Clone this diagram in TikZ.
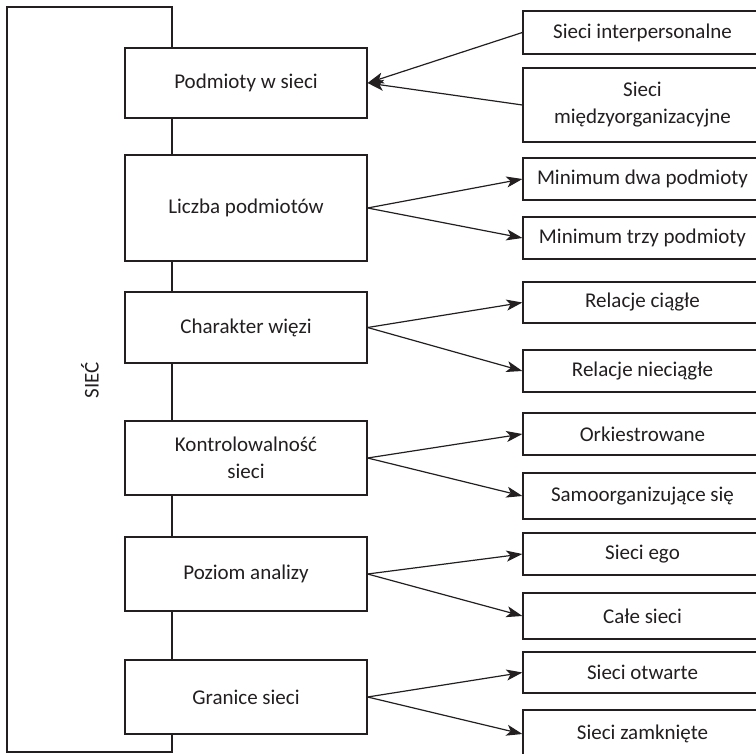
\documentclass[tikz,border=0pt]{standalone}
\usepackage{fontspec}
\setmainfont{Carlito}
\usetikzlibrary{arrows.meta}
\definecolor{ink}{HTML}{231F20}
\begin{document}
\begin{tikzpicture}[x=1pt,y=-1pt,
  every node/.style={font=\fontsize{21}{27}\selectfont, text=ink},
  mid/.style={draw=ink, line width=1.2pt, fill=white, minimum width=242pt, inner sep=0pt, align=center},
  opt/.style={draw=ink, line width=1.2pt, fill=white, minimum width=239pt, inner sep=0pt, align=center},
  conn/.style={draw=ink, line width=1.2pt, -{Stealth[length=16pt,width=11pt,inset=4pt]}}]
\useasboundingbox (0,0) rectangle (756,754);
\begin{scope}
\clip (0,0) rectangle (756,754);
% frame
\coordinate (ftr) at (172,7);
\coordinate (ftl) at (7,7);
\coordinate (fbl) at (7,752);
\coordinate (fbr) at (172,752);
\draw[ink, line width=1.2pt] (ftr) -- (ftl) -- (fbl) -- (fbr) -- cycle;
\node[rotate=90] (siec) at (90,380) {SIEĆ};
% middle boxes
\node[mid, minimum height=70pt] (m1) at (246,83) {Podmioty w sieci};
\node[mid, minimum height=106pt] (m2) at (246,208) {Liczba podmiotów};
\node[mid, minimum height=71pt] (m3) at (246,327.5) {Charakter więzi};
\node[mid, minimum height=74pt] (m4) at (246,458) {Kontrolowalność\\sieci};
\node[mid, minimum height=74pt] (m5) at (246,574) {Poziom analizy};
\node[mid, minimum height=74pt] (m6) at (246,697) {Granice sieci};
% right boxes
\node[opt, minimum height=43pt] (r1) at (642.5,32.5) {Sieci interpersonalne};
\node[opt, minimum height=74pt] (r2) at (642.5,105) {Sieci\\międzyorganizacyjne};
\node[opt, minimum height=42pt] (r3) at (642.5,179) {Minimum dwa podmioty};
\node[opt, minimum height=42pt] (r4) at (642.5,238) {Minimum trzy podmioty};
\node[opt, minimum height=41pt] (r5) at (642.5,302.5) {Relacje ciągłe};
\node[opt, minimum height=42pt] (r6) at (642.5,371) {Relacje nieciągłe};
\node[opt, minimum height=42pt] (r7) at (642.5,434) {Orkiestrowane};
\node[opt, minimum height=46pt] (r8) at (642.5,496) {Samoorganizujące się};
\node[opt, minimum height=42pt] (r9) at (642.5,554) {Sieci ego};
\node[opt, minimum height=46pt] (r10) at (642.5,616) {Całe sieci};
\node[opt, minimum height=41pt] (r11) at (642.5,672.5) {Sieci otwarte};
\node[opt, minimum height=48pt] (r12) at (642.5,734) {Sieci zamknięte};
% connectors
\draw[conn] (r1.west) -- (m1.east);
\draw[conn] (r2.west) -- (m1.east);
\draw[conn] (m2.east) -- (r3.west);
\draw[conn] (m2.east) -- (r4.west);
\draw[conn] (m3.east) -- (r5.west);
\draw[conn] (m3.east) -- (r6.west);
\draw[conn] (m4.east) -- (r7.west);
\draw[conn] (m4.east) -- (r8.west);
\draw[conn] (m5.east) -- (r9.west);
\draw[conn] (m5.east) -- (r10.west);
\draw[conn] (m6.east) -- (r11.west);
\draw[conn] (m6.east) -- (r12.west);
\end{scope}
\end{tikzpicture}
\end{document}
